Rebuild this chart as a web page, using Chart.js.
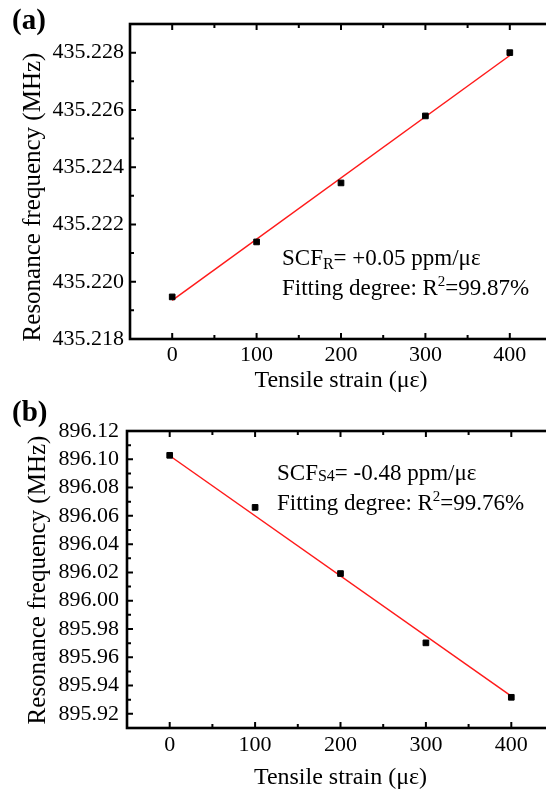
<!DOCTYPE html>
<html>
<head>
<meta charset="utf-8">
<script src="https://cdn.jsdelivr.net/npm/chart.js@4.4.1/dist/chart.umd.min.js"></script>
<style>
  html, body { margin: 0; padding: 0; background: #fff; overflow: hidden; }
  .panel { position: absolute; left: 0; width: 560px; }
  #panelA { top: 0; height: 395px; }
  #panelB { top: 395px; height: 400px; }
</style>
</head>
<body>
<div class="panel" id="panelA"><canvas id="chartA"></canvas></div>
<div class="panel" id="panelB"><canvas id="chartB"></canvas></div>
<script>
// ── Data ──────────────────────────────────────────────────────────────────────
const strain = [0, 100, 200, 300, 400];                                  // με
const freqR  = [435.21947, 435.22139, 435.22345, 435.22579, 435.22800];  // MHz, resonator R
const freqS4 = [896.1028, 896.0660, 896.0192, 895.9702, 895.9317];       // MHz, S4

// fitted lines, end points as drawn
const fitX  = [0, 400];
const fitR  = [435.21935, 435.22790];
const fitS4 = [896.1025, 895.9325];

// axes
const xTicks   = [0, 100, 200, 300, 400];
const xMinor   = [50, 150, 250, 350];
const yTicksR  = [435.218, 435.220, 435.222, 435.224, 435.226, 435.228];
const yMinorR  = [435.219, 435.221, 435.223, 435.225, 435.227];
const yTicksS4 = [895.92, 895.94, 895.96, 895.98, 896.00, 896.02, 896.04, 896.06, 896.08, 896.10, 896.12];
const yMinorS4 = [895.93, 895.95, 895.97, 895.99, 896.01, 896.03, 896.05, 896.07, 896.09, 896.11];

const SERIF = "'Liberation Serif', 'Times New Roman', serif";
Chart.defaults.font.family = SERIF;
Chart.defaults.color = "#000";

// ── Box frame with inward ticks ───────────────────────────────────────────────
const framePlugin = {
    id: "frame",
    afterDatasetsDraw(chart, args, opts) {
        const { ctx, chartArea: a, scales: { x, y } } = chart;
        ctx.save();
        ctx.strokeStyle = "#000";
        ctx.lineWidth = 2;
        ctx.beginPath();
        const xt = (list, len) => list.forEach(v => {
            const p = x.getPixelForValue(v);
            ctx.moveTo(p, a.bottom); ctx.lineTo(p, a.bottom - len);
            ctx.moveTo(p, a.top);    ctx.lineTo(p, a.top + len);
        });
        const yt = (list, len) => list.forEach(v => {
            const p = y.getPixelForValue(v);
            ctx.moveTo(a.left, p);  ctx.lineTo(a.left + len, p);
            ctx.moveTo(a.right, p); ctx.lineTo(a.right - len, p);
        });
        xt(xTicks, 6); xt(xMinor, 4);
        yt(opts.major, 6); yt(opts.minor, 4);
        ctx.stroke();
        ctx.lineWidth = 2.6;
        ctx.strokeRect(a.left, a.top, a.right - a.left, a.bottom - a.top);
        ctx.restore();
    }
};

// ── Panel letter, y title and the fit note ────────────────────────────────────
function drawRuns(ctx, x, y, runs, size) {
    runs.forEach(([text, scale, dy]) => {
        ctx.font = `${Math.round(size * scale)}px ${SERIF}`;
        ctx.fillText(text, x, y + dy);
        x += ctx.measureText(text).width;
    });
}

const textPlugin = {
    id: "texts",
    afterDraw(chart, args, o) {
        const ctx = chart.ctx;
        ctx.save();
        ctx.fillStyle = "#000";
        ctx.textBaseline = "alphabetic";
        ctx.textAlign = "left";
        ctx.font = `bold 29px ${SERIF}`;
        ctx.fillText(o.panel, 12, o.panelY);

        o.note.forEach((line, i) => drawRuns(ctx, o.noteX, o.noteY + i * 30, line, 23));

        ctx.translate(o.titleX, o.titleY);
        ctx.rotate(-Math.PI / 2);
        ctx.textAlign = "center";
        ctx.textBaseline = "middle";
        ctx.font = `25px ${SERIF}`;
        ctx.fillText("Resonance frequency (MHz)", 0, 0);
        ctx.restore();
    }
};

// ── Chart builder ─────────────────────────────────────────────────────────────
function makeChart(id, cfg) {
    return new Chart(document.getElementById(id), {
        type: "scatter",
        data: {
            datasets: [{
                data: strain.map((s, i) => ({ x: s, y: cfg.values[i] })),
                pointStyle: "rect",
                pointRadius: 4,
                backgroundColor: "#000",
                borderColor: "#000",
                borderWidth: 1
            }, {
                data: fitX.map((s, i) => ({ x: s, y: cfg.fit[i] })),
                showLine: true,
                pointRadius: 0,
                borderColor: "#ff1a1a",
                borderWidth: 1.5
            }]
        },
        options: {
            responsive: true,
            maintainAspectRatio: false,
            animation: false,
            layout: { padding: { top: cfg.top, right: cfg.right, left: 0, bottom: 0 } },
            plugins: {
                legend: { display: false },
                tooltip: { enabled: false },
                frame: { major: cfg.yTicks, minor: cfg.yMinor },
                texts: cfg.texts
            },
            scales: {
                x: {
                    type: "linear", min: -50, max: 450,
                    afterBuildTicks: s => { s.ticks = xTicks.map(v => ({ value: v })); },
                    afterFit: s => { s.height = cfg.xH; },
                    ticks: { font: { size: 22 }, padding: cfg.xPad, maxRotation: 0, autoSkip: false },
                    grid: { display: false, drawTicks: false },
                    border: { display: false },
                    title: { display: true, text: "Tensile strain (με)", font: { size: 24 },
                             padding: { top: 0, bottom: cfg.titlePad } }
                },
                y: {
                    type: "linear", min: cfg.yMin, max: cfg.yMax,
                    afterBuildTicks: s => { s.ticks = cfg.yTicks.map(v => ({ value: v })); },
                    afterFit: s => { s.width = cfg.yW; },
                    ticks: { font: { size: 22 }, padding: cfg.yPad, autoSkip: false,
                             callback: v => v.toFixed(cfg.digits) },
                    grid: { display: false, drawTicks: false },
                    border: { display: false }
                }
            }
        },
        plugins: [framePlugin, textPlugin]
    });
}

makeChart("chartA", {
    values: freqR, fit: fitR, yTicks: yTicksR, yMinor: yMinorR,
    yMin: 435.218, yMax: 435.229, digits: 3,
    top: 24, right: 8, yW: 130, xH: 56, xPad: 3, yPad: 6, titlePad: 0,
    texts: {
        panel: "(a)", panelY: 29, titleX: 33, titleY: 197,
        noteX: 282, noteY: 265,
        note: [
            [["SCF", 1, 0], ["R", 0.7, 4], ["= +0.05 ppm/με", 1, 0]],
            [["Fitting degree: R", 1, 0], ["2", 0.65, -9], ["=99.87%", 1, 0]]
        ]
    }
});

makeChart("chartB", {
    values: freqS4, fit: fitS4, yTicks: yTicksS4, yMinor: yMinorS4,
    yMin: 895.91, yMax: 896.12, digits: 2,
    top: 36, right: 6, yW: 127, xH: 67, xPad: 4, yPad: 8, titlePad: 3,
    texts: {
        panel: "(b)", panelY: 26, titleX: 38, titleY: 185,
        noteX: 277, noteY: 85,
        note: [
            [["SCF", 1, 0], ["S4", 0.7, 1], ["= -0.48 ppm/με", 1, 0]],
            [["Fitting degree: R", 1, 0], ["2", 0.65, -9], ["=99.76%", 1, 0]]
        ]
    }
});
</script>
</body>
</html>
